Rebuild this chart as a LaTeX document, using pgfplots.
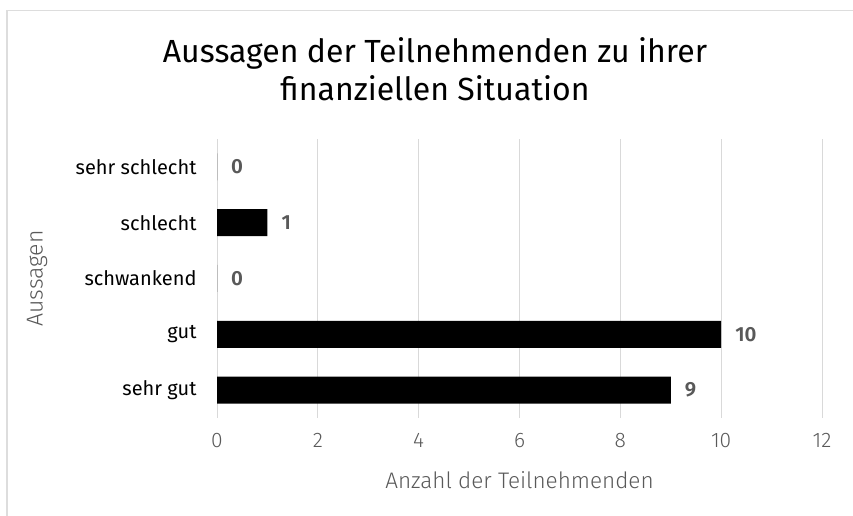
\documentclass[border=0pt]{standalone}
\usepackage{fontspec}
\setmainfont{Fira Sans}
\newfontfamily\lightfont{Fira Sans Light}
\newfontfamily\semifont{Fira Sans SemiBold}
\usepackage{pgfplots}
\pgfplotsset{compat=1.18}
\definecolor{txtgrey}{HTML}{595959}
\definecolor{gridgrey}{HTML}{D9D9D9}
\definecolor{bordergrey}{HTML}{DDDDDD}
\begin{document}
\begin{tikzpicture}
\path[use as bounding box] (0pt,0pt) rectangle (853pt,516pt);
\draw[bordergrey, line width=1.3pt] (7pt,0pt) -- (7pt,505.5pt) -- (853pt,505.5pt);
\node[font=\fontsize{32}{38}\selectfont, align=center] at (435pt,447pt) {Aussagen der Teilnehmenden zu ihrer\\finanziellen Situation};
\begin{axis}[
  at={(217pt,98pt)}, anchor=south west,
  scale only axis, width=605pt, height=279pt,
  xmin=0, xmax=12, ymin=-0.5, ymax=4.5,
  xtick={0,2,...,12}, ytick={0,1,2,3,4},
  yticklabels={sehr gut, gut, schwankend, schlecht, sehr schlecht},
  xbar, bar width=27pt,
  xmajorgrids, grid style={gridgrey, line width=0.9pt},
  axis line style={draw=none}, major tick length=0pt,
  /pgf/number format/assume math mode=true,
  xticklabel style={font=\lightfont\fontsize{21}{24}\selectfont, text=txtgrey, anchor=north, yshift=-12pt},
  yticklabel style={font=\fontsize{20}{24}\selectfont, text=black, anchor=east, xshift=-17pt},
  xlabel={Anzahl der Teilnehmenden},
  ylabel={Aussagen},
  xlabel style={font=\lightfont\fontsize{22.5}{26}\selectfont, text=txtgrey, at={(axis description cs:0.5,-0.2222)}, anchor=center},
  ylabel style={font=\lightfont\fontsize{23}{26}\selectfont, text=txtgrey, at={(axis description cs:-0.2975,0.5)}, anchor=center},
  nodes near coords,
  nodes near coords style={font=\semifont\fontsize{20.5}{24}\selectfont, text=txtgrey, anchor=west, inner sep=0pt, xshift=14pt},
]
\addplot[fill=black, draw=none] coordinates {(9,0) (10,1) (0,2) (1,3) (0,4)};
\end{axis}
\end{tikzpicture}
\end{document}
